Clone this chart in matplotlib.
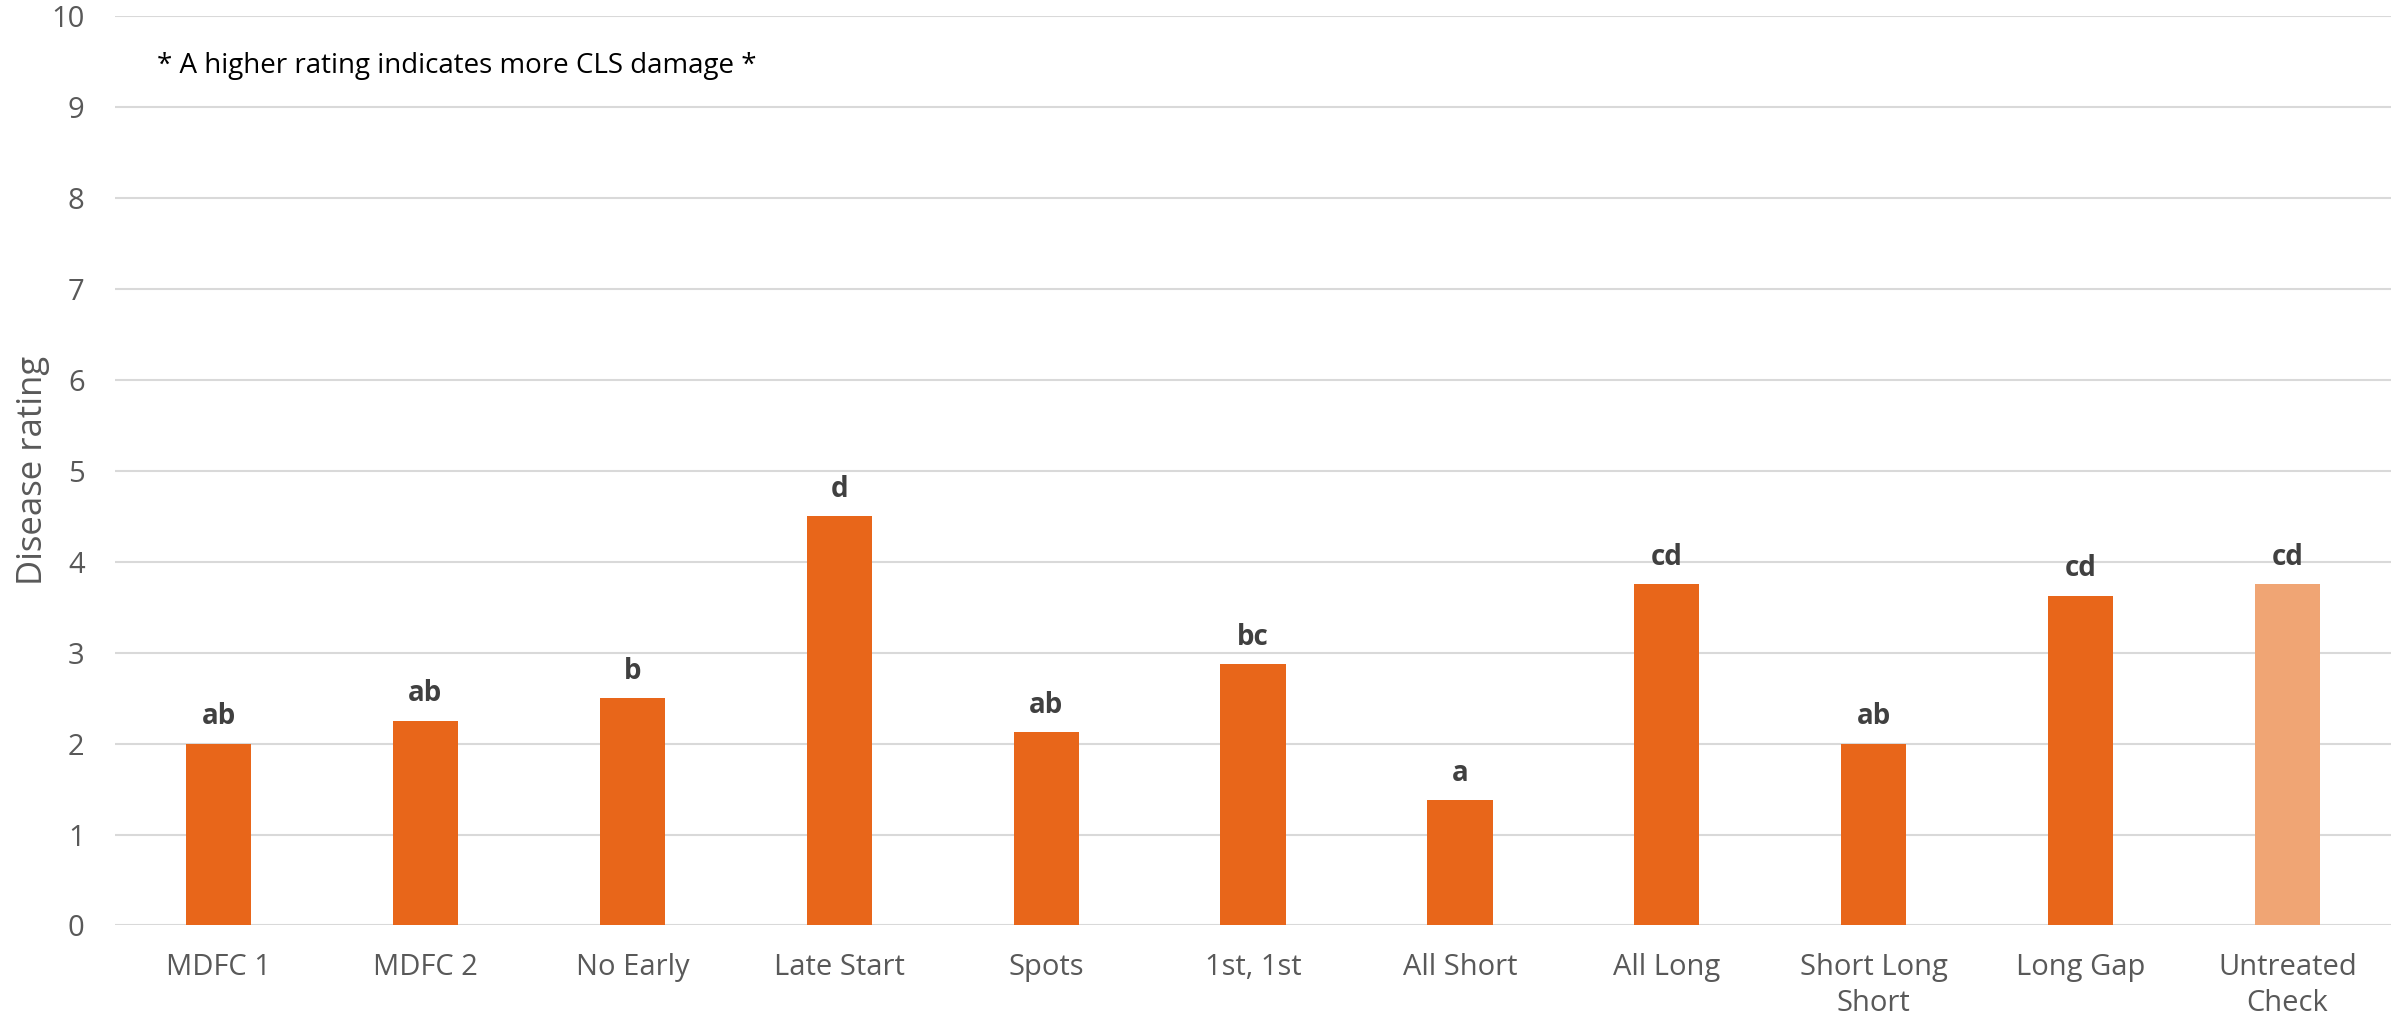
import matplotlib
matplotlib.use("Agg")
import matplotlib.pyplot as plt
import numpy as np

categories = ["MDFC 1", "MDFC 2", "No Early", "Late Start", "Spots", "1st, 1st",
              "All Short", "All Long", "Short Long\nShort", "Long Gap", "Untreated\nCheck"]
ratings = [2.0, 2.25, 2.5, 4.5, 2.125, 2.875, 1.375, 3.75, 2.0, 3.625, 3.75]
letters = ["ab", "ab", "b", "d", "ab", "bc", "a", "cd", "ab", "cd", "cd"]
ytick_vals = list(range(0, 11))

plt.rcParams['font.family'] = ['Open Sans', 'DejaVu Sans']

fig = plt.figure(figsize=(23.97, 10.18), dpi=100)
ax = fig.add_axes([0.048, 0.0909, 0.9495, 0.8934])

main_color = "#E8661A"
check_color = "#F0A574"
colors = [main_color] * (len(categories) - 1) + [check_color]

x = np.arange(len(categories))
ax.bar(x, ratings, width=0.315, color=colors, zorder=3)

for xi, v, lab in zip(x, ratings, letters):
    ax.annotate(lab, (xi, v), xytext=(0, 14), textcoords="offset points",
                ha="center", va="baseline", fontsize=20, fontweight="bold",
                color="#404040", zorder=4)

ax.set_xlim(-0.5, len(categories) - 0.5)
ax.set_ylim(0, 10)
ax.set_yticks(ytick_vals)
ax.set_xticks(x)
ax.set_xticklabels(categories, fontsize=21, color="#595959", linespacing=1.32)
ax.tick_params(axis="x", length=0, pad=20)
ax.tick_params(axis="y", length=0, pad=22, labelsize=21, labelcolor="#595959")
ax.yaxis.grid(True, color="#D9D9D9", linewidth=1.5, zorder=0)
for s in ax.spines.values():
    s.set_visible(False)

ax.set_ylabel("Disease rating", fontsize=25, color="#595959", labelpad=1)

ax.text(0.0185, 0.945, "* A higher rating indicates more CLS damage *",
        transform=ax.transAxes, ha="left", va="center", fontsize=20, color="black")

fig.savefig("out.png", dpi=100)
